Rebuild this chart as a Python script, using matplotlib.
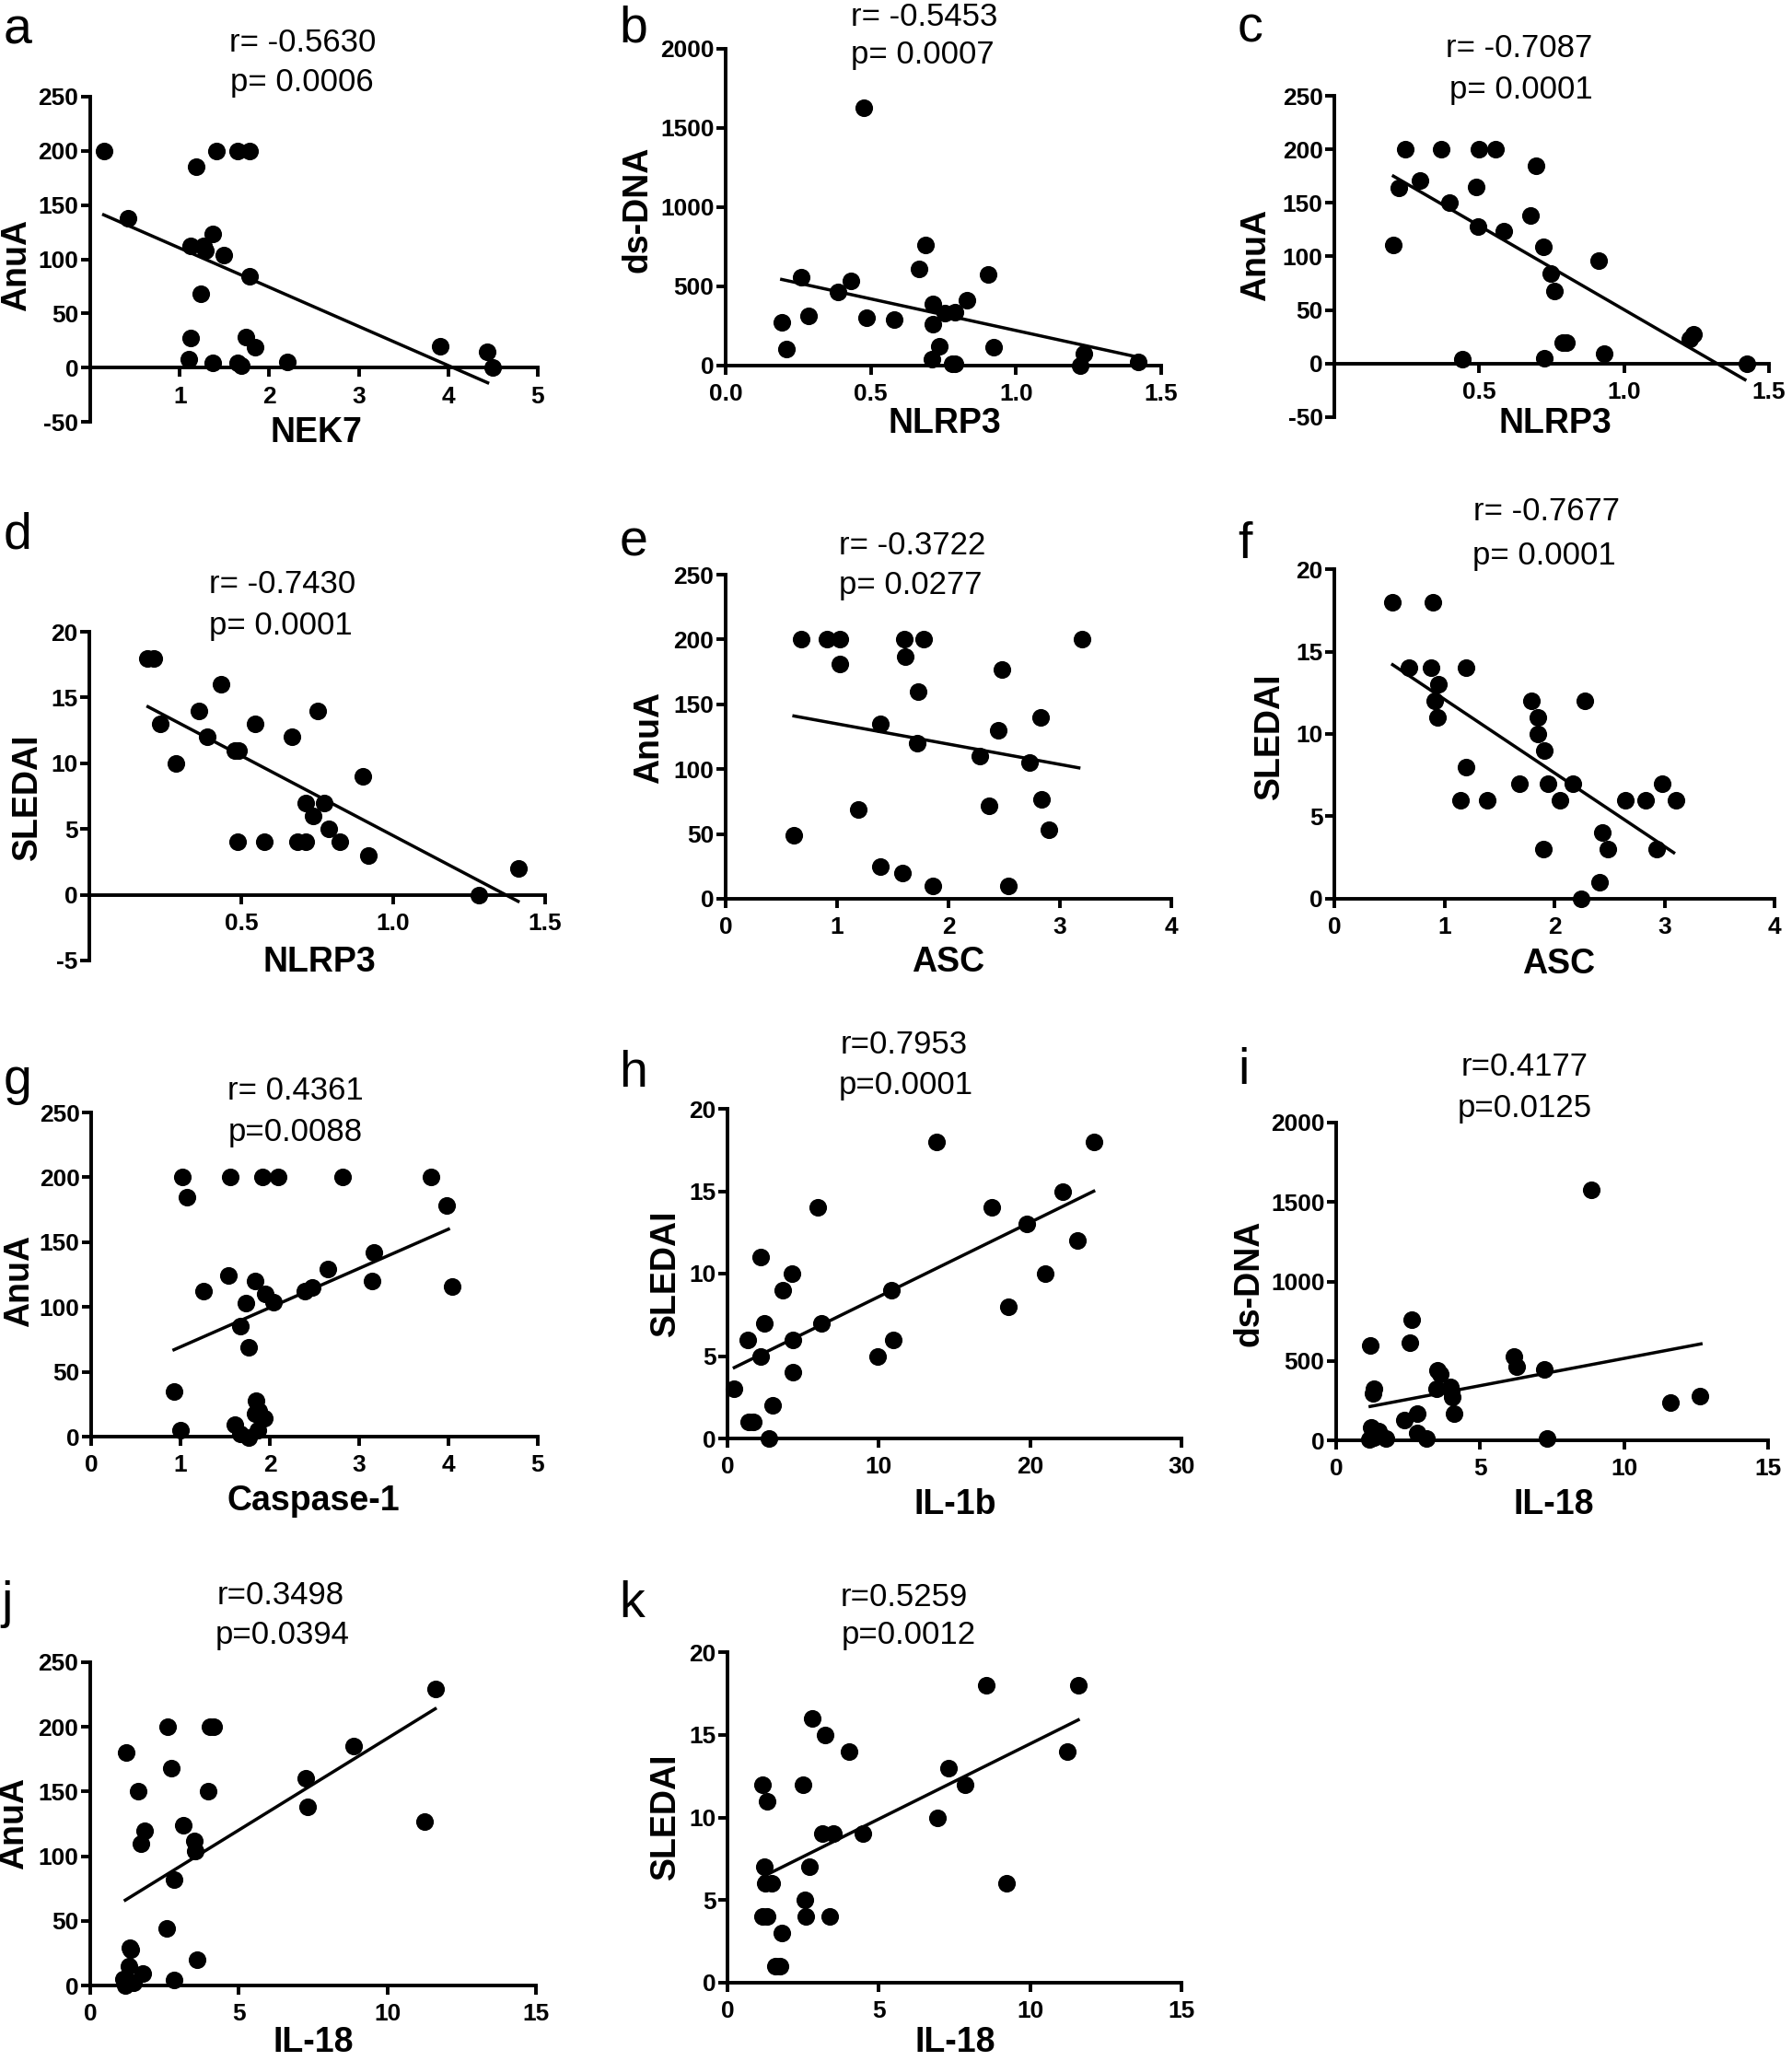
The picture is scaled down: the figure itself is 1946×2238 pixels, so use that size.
import matplotlib
matplotlib.use("Agg")
from matplotlib import pyplot as plt
from matplotlib.ticker import FixedLocator, FixedFormatter

plt.rcParams["axes.unicode_minus"] = False

W, H = 1946, 2238

# ---- data ----
a_x = [0.15, 0.42, 1.18, 1.41, 1.65, 1.78, 1.12, 1.27, 1.29, 1.37, 1.49, 1.78, 1.23, 1.12, 1.10, 1.37, 1.65, 1.69, 1.74, 1.84, 2.20, 3.91, 4.43, 4.50]
a_y = [200, 138, 185, 200, 200, 200, 112, 112, 108, 123, 104, 84, 68, 27, 8, 4, 4, 2, 28, 19, 5, 20, 15, 0]
a_fit = ([0.15, 4.44], [141, -14])

b_x = [0.475, 0.193, 0.21, 0.259, 0.286, 0.388, 0.431, 0.486, 0.579, 0.667, 0.689, 0.713, 0.754, 0.791, 0.715, 0.736, 0.711, 0.781, 0.791, 0.832, 0.904, 0.922, 1.22, 1.234, 1.421]
b_y = [1630, 276, 107, 557, 315, 466, 534, 301, 291, 612, 761, 392, 330, 338, 262, 120, 43, 10, 10, 412, 573, 117, 0, 78, 23]
b_fit = ([0.193, 1.424], [544, 52])

c_x = [0.245, 0.222, 0.204, 0.296, 0.37, 0.398, 0.5, 0.557, 0.49, 0.497, 0.585, 0.443, 0.697, 0.676, 0.72, 0.746, 0.761, 0.789, 0.8, 0.723, 0.912, 0.93, 1.226, 1.239, 1.424]
c_y = [200, 164, 111, 171, 200, 150, 200, 200, 165, 128, 124, 4, 185, 138, 109, 84, 68, 20, 20, 5, 96, 9, 23, 27, 0]
c_fit = ([0.204, 1.417], [175, -15])

d_x = [0.191, 0.213, 0.234, 0.285, 0.362, 0.388, 0.432, 0.478, 0.491, 0.487, 0.546, 0.577, 0.666, 0.685, 0.713, 0.711, 0.736, 0.753, 0.774, 0.787, 0.823, 0.9, 0.918, 1.282, 1.413]
d_y = [18, 18, 13, 10, 14, 12, 16, 11, 11, 4, 13, 4, 12, 4, 4, 7, 6, 14, 7, 5, 4, 9, 3, 0, 2]
d_fit = ([0.193, 1.411], [14.3, -0.5])

e_x = [0.613, 0.677, 0.908, 1.027, 1.027, 1.19, 1.387, 1.387, 1.586, 1.604, 1.614, 1.73, 1.722, 1.777, 1.856, 2.277, 2.36, 2.45, 2.476, 2.54, 2.73, 2.83, 2.836, 2.9, 3.2]
e_y = [49, 200, 200, 200, 181, 69, 135, 25, 20, 200, 187, 160, 120, 200, 10, 110, 72, 130, 177, 10, 105, 140, 77, 53, 200]
e_fit = ([0.613, 3.17], [141, 101])

f_x = [0.526, 0.898, 0.677, 0.878, 0.945, 0.912, 0.939, 1.197, 1.193, 1.15, 1.391, 1.683, 1.793, 1.85, 1.85, 1.904, 1.9, 1.938, 2.052, 2.169, 2.28, 2.24, 2.414, 2.437, 2.487, 2.642, 2.826, 2.933, 2.983, 3.108]
f_y = [18, 18, 14, 14, 13, 12, 11, 14, 8, 6, 6, 7, 12, 11, 10, 9, 3, 7, 6, 7, 12, 0, 1, 4, 3, 6, 6, 3, 7, 6]
f_fit = ([0.53, 3.084], [14.2, 2.8])

g_x = [1.02, 1.07, 0.93, 1.0, 1.255, 1.54, 1.553, 1.605, 1.67, 1.67, 1.728, 1.759, 1.763, 1.837, 1.846, 1.837, 1.88, 1.87, 1.916, 1.94, 1.947, 2.04, 2.09, 2.39, 2.47, 2.65, 2.81, 3.14, 3.17, 3.8, 3.98, 4.04]
g_y = [200, 185, 35, 5, 112, 124, 200, 9, 85, 2, 103, 69, -1, 120, 28, 18, 20, 5, 200, 14, 110, 104, 200, 112, 115, 129, 200, 120, 142, 200, 178, 116]
g_fit = ([0.927, 4.0], [67, 160])

h_x = [0.45, 1.33, 1.41, 1.73, 2.18, 2.2, 2.44, 2.71, 3.0, 3.64, 4.27, 4.3, 4.3, 5.97, 6.19, 9.9, 10.83, 10.96, 13.8, 17.47, 18.53, 19.78, 21.02, 22.17, 23.1, 24.24]
h_y = [3, 6, 1, 1, 11, 5, 7, 0, 2, 9, 10, 6, 4, 14, 7, 5, 9, 6, 18, 14, 8, 13, 10, 15, 12, 18]
h_fit = ([0.45, 24.2], [4.3, 15])

i_x = [1.19, 1.28, 1.32, 1.22, 1.15, 1.32, 1.48, 1.74, 2.36, 2.57, 2.62, 2.81, 2.81, 3.12, 3.48, 3.51, 3.6, 3.97, 4.0, 4.03, 4.1, 6.16, 6.26, 7.24, 7.33, 8.87, 11.62, 12.64]
i_y = [597, 294, 322, 81, 4, 15, 59, 9, 125, 614, 761, 169, 44, 9, 322, 443, 417, 338, 311, 272, 169, 526, 461, 447, 9, 1577, 239, 279]
i_fit = ([1.18, 12.67], [213, 607])

j_x = [1.18, 1.13, 1.26, 1.46, 1.31, 1.35, 1.33, 1.22, 1.61, 1.84, 1.72, 1.77, 2.57, 2.6, 2.73, 2.83, 2.82, 3.12, 3.49, 3.52, 3.58, 3.98, 4.04, 4.15, 7.26, 7.32, 8.87, 11.26, 11.63]
j_y = [0, 5, 3, 2, 15, 28, 29, 180, 150, 120, 110, 9, 44, 200, 168, 82, 4, 124, 112, 104, 20, 150, 200, 200, 160, 138, 185, 127, 229]
j_fit = ([1.18, 11.61], [66, 214])

k_x = [1.15, 1.3, 1.23, 1.26, 1.46, 1.15, 1.3, 1.79, 1.59, 1.73, 2.48, 2.55, 2.59, 2.72, 2.81, 3.12, 3.23, 3.39, 3.49, 4.01, 4.47, 6.94, 7.3, 7.86, 8.54, 9.23, 11.22, 11.59]
k_y = [12, 11, 7, 6, 6, 4, 4, 3, 1, 1, 12, 5, 4, 7, 16, 9, 15, 4, 9, 14, 9, 10, 13, 12, 18, 6, 14, 18]
k_fit = ([1.15, 11.59], [6.4, 15.9])

letters = ["a", "b", "c", "d", "e", "f", "g", "h", "i", "j", "k"]
r_text = ["r= -0.5630", "r= -0.5453", "r= -0.7087", "r= -0.7430", "r= -0.3722", "r= -0.7677",
          "r= 0.4361", "r=0.7953", "r=0.4177", "r=0.3498", "r=0.5259"]
p_text = ["p= 0.0006", "p= 0.0007", "p= 0.0001", "p= 0.0001", "p= 0.0277", "p= 0.0001",
          "p=0.0088", "p=0.0001", "p=0.0125", "p=0.0394", "p=0.0012"]
ylabels = ["AnuA", "ds-DNA", "AnuA", "SLEDAI", "AnuA", "SLEDAI", "AnuA", "SLEDAI", "ds-DNA", "AnuA", "SLEDAI"]
xlabels = ["NEK7", "NLRP3", "NLRP3", "NLRP3", "ASC", "ASC", "Caspase-1", "IL-1b", "IL-18", "IL-18", "IL-18"]

xticks = [[1, 2, 3, 4, 5], [0.0, 0.5, 1.0, 1.5], [0.5, 1.0, 1.5], [0.5, 1.0, 1.5], [0, 1, 2, 3, 4], [0, 1, 2, 3, 4],
          [0, 1, 2, 3, 4, 5], [0, 10, 20, 30], [0, 5, 10, 15], [0, 5, 10, 15], [0, 5, 10, 15]]
xtick_lab = [["1", "2", "3", "4", "5"], ["0.0", "0.5", "1.0", "1.5"], ["0.5", "1.0", "1.5"], ["0.5", "1.0", "1.5"],
             ["0", "1", "2", "3", "4"], ["0", "1", "2", "3", "4"], ["0", "1", "2", "3", "4", "5"],
             ["0", "10", "20", "30"], ["0", "5", "10", "15"], ["0", "5", "10", "15"], ["0", "5", "10", "15"]]
xlims = [(0, 5), (0, 1.5), (0, 1.5), (0, 1.5), (0, 4), (0, 4), (0, 5), (0, 30), (0, 15), (0, 15), (0, 15)]
yticks = [list(range(-50, 251, 50)), list(range(0, 2001, 500)), list(range(-50, 251, 50)), list(range(-5, 21, 5)),
          list(range(0, 251, 50)), list(range(0, 21, 5)), list(range(0, 251, 50)), list(range(0, 21, 5)),
          list(range(0, 2001, 500)), list(range(0, 251, 50)), list(range(0, 21, 5))]

xs = [a_x, b_x, c_x, d_x, e_x, f_x, g_x, h_x, i_x, j_x, k_x]
ys = [a_y, b_y, c_y, d_y, e_y, f_y, g_y, h_y, i_y, j_y, k_y]
fits = [a_fit, b_fit, c_fit, d_fit, e_fit, f_fit, g_fit, h_fit, i_fit, j_fit, k_fit]

# ---- layout (pixels): axes box left, right, top, bottom ----
boxes = [(98, 584, 105, 458), (788, 1261, 53, 397), (1449, 1921, 104, 453),
         (97, 592, 686, 1043), (788, 1272, 624, 976), (1449, 1927, 618, 976),
         (99, 584, 1208, 1560), (790, 1283, 1204, 1562), (1451, 1920, 1219, 1564),
         (98, 582, 1805, 2156), (790, 1283, 1794, 2153)]
letter_pos = [(19, 34), (688, 32), (1358, 32), (19, 582), (688, 590), (1352, 592),
              (19, 1174), (688, 1166), (1350, 1163), (8, 1742), (686, 1742)]
r_pos = [(329, 46), (1004, 19), (1650, 53), (307, 634), (991, 592), (1679, 555),
         (321, 1185), (982, 1134), (1656, 1159), (305, 1733), (982, 1735)]
p_pos = [(328, 90), (1002, 60), (1652, 97), (305, 680), (989, 636), (1677, 603),
         (321, 1229), (984, 1178), (1656, 1204), (307, 1776), (987, 1776)]
ylab_pos = [(18, 288), (692, 227), (1364, 277), (30, 865), (705, 801), (1379, 799),
            (21, 1391), (723, 1382), (1356, 1393), (15, 1980), (723, 1972)]
xlab_pos = [(343, 470), (1026, 460), (1689, 460), (347, 1045), (1030, 1045), (1693, 1047),
            (340, 1630), (1037, 1634), (1687, 1634), (340, 2218), (1037, 2218)]

bold_fam = ["Liberation Sans Narrow", "Liberation Sans", "DejaVu Sans"]
reg_fam = ["Liberation Sans", "DejaVu Sans"]


def fx(x):
    return x / W


def fy(y):
    return 1 - y / H


fig = plt.figure(figsize=(W / 100, H / 100), dpi=100)

for n in range(11):
    L, R, T, B = boxes[n]
    ax = fig.add_axes([fx(L), fy(B), (R - L) / W, (B - T) / H])
    ax.set_xlim(*xlims[n])
    ax.set_ylim(yticks[n][0], yticks[n][-1])
    ax.patch.set_alpha(0)
    for s in ["top", "right"]:
        ax.spines[s].set_visible(False)
    for s in ["left", "bottom"]:
        ax.spines[s].set_linewidth(2.8)
    if yticks[n][0] < 0:
        ax.spines["bottom"].set_position(("data", 0))

    ax.scatter(xs[n], ys[n], s=190, color="black", zorder=3, clip_on=False, linewidths=0)
    ax.plot(fits[n][0], fits[n][1], color="black", lw=2.5, clip_on=False, zorder=2)

    ax.xaxis.set_major_locator(FixedLocator(xticks[n]))
    ax.xaxis.set_major_formatter(FixedFormatter(xtick_lab[n]))
    ax.yaxis.set_major_locator(FixedLocator(yticks[n]))
    ax.tick_params(axis="both", direction="out", length=7, width=2.8, labelsize=19)
    ax.tick_params(axis="x", pad=7)
    ax.tick_params(axis="y", pad=2)
    for lab in ax.get_xticklabels() + ax.get_yticklabels():
        lab.set_fontfamily(bold_fam)
        lab.set_fontweight("bold")

    ax.set_ylabel(ylabels[n], fontsize=27, fontweight="bold", family=bold_fam)
    ax.yaxis.set_label_coords(fx(ylab_pos[n][0]), fy(ylab_pos[n][1]), transform=fig.transFigure)
    ax.set_xlabel(xlabels[n], fontsize=27, fontweight="bold", family=bold_fam)
    ax.xaxis.set_label_coords(fx(xlab_pos[n][0]), fy(xlab_pos[n][1]), transform=fig.transFigure)
    ax.xaxis.label.set_va("center")
    ax.yaxis.label.set_va("center")

    fig.text(fx(letter_pos[n][0]), fy(letter_pos[n][1]), letters[n], fontsize=40,
             family=reg_fam, ha="center", va="center")
    fig.text(fx(r_pos[n][0]), fy(r_pos[n][1]), r_text[n], fontsize=25,
             family=reg_fam, ha="center", va="center")
    fig.text(fx(p_pos[n][0]), fy(p_pos[n][1]), p_text[n], fontsize=25,
             family=reg_fam, ha="center", va="center")

fig.savefig("out.png", dpi=100, facecolor="white")
